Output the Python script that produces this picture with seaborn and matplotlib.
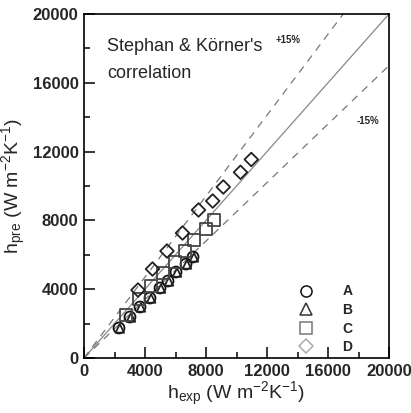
import numpy as np
import pandas as pd
import matplotlib
matplotlib.use("Agg")
import matplotlib.pyplot as plt
from matplotlib import font_manager
from matplotlib.lines import Line2D
from matplotlib.ticker import MultipleLocator
import seaborn as sns

# measured (x) vs predicted (y) heat transfer coefficients, W m-2 K-1
a_exp = [2295, 3016, 3672, 4328, 4984, 5508, 6033, 6689, 7148]
a_pre = [1744, 2384, 2965, 3488, 4070, 4477, 5000, 5465, 5872]

b_exp = [2350, 3080, 3730, 4400, 5050, 5570, 6100, 6750, 7210]
b_pre = [1720, 2360, 2940, 3460, 4040, 4450, 4970, 5440, 5850]

c_exp = [2754, 3607, 4393, 5180, 5967, 6623, 7213, 8000, 8525]
c_pre = [2500, 3430, 4186, 4942, 5581, 6221, 6860, 7500, 8023]

d_exp = [3541, 4492, 5443, 6459, 7508, 8439, 9134, 10262, 10970]
d_pre = [3953, 5174, 6221, 7267, 8605, 9128, 9942, 10797, 11541]

groups = ["A", "B", "C", "D"]
markers = {"A": "o", "B": "^", "C": "s", "D": "D"}
sizes = {"A": 62, "B": 38, "C": 75, "D": 48}
plot_edge = {"A": "#111111", "B": "#222222", "C": "#444444", "D": "#222222"}
legend_edge = {"A": "#111111", "B": "#333333", "C": "#777777", "D": "#aaaaaa"}

df = pd.concat([
    pd.DataFrame({"exp": a_exp, "pre": a_pre, "set": "A"}),
    pd.DataFrame({"exp": b_exp, "pre": b_pre, "set": "B"}),
    pd.DataFrame({"exp": c_exp, "pre": c_pre, "set": "C"}),
    pd.DataFrame({"exp": d_exp, "pre": d_pre, "set": "D"}),
])

sns.set_style("ticks")
plt.rcParams['font.family'] = ['Liberation Sans', 'DejaVu Sans']
plt.rcParams['mathtext.default'] = 'regular'

# make sure bold text uses the regular-width Liberation Sans Bold, not the Narrow cut
bold_path = None
for f in font_manager.fontManager.ttflist:
    if f.name == "Liberation Sans" and f.weight in (700, "bold") and f.style == "normal":
        bold_path = f.fname
        break
if bold_path:
    bold_fp = font_manager.FontProperties(fname=bold_path)
else:
    bold_fp = font_manager.FontProperties(family="Liberation Sans", weight="bold")

fig = plt.figure(figsize=(4.11, 4.13), dpi=100)
ax = fig.add_axes([84 / 411, 1 - 358 / 413, 305 / 411, 344 / 413])

# reference lines: perfect agreement and +/-15 %
ax.plot([0, 20000], [0, 20000], color="#888888", lw=0.9, zorder=1)
ax.plot([0, 20000 * 0.85], [0, 20000], color="#777777", lw=0.9, ls=(0, (6, 5)), zorder=1)
ax.plot([0, 20000], [0, 20000 * 0.85], color="#777777", lw=0.9, ls=(0, (6, 5)), zorder=1)

for g in groups:
    sub = df[df["set"] == g]
    sns.scatterplot(data=sub, x="exp", y="pre", ax=ax, marker=markers[g], s=sizes[g],
                    facecolor="none", edgecolor=plot_edge[g], linewidth=1.3, zorder=3)

ax.set_xlim(0, 20000)
ax.set_ylim(0, 20000)
ax.xaxis.set_major_locator(MultipleLocator(4000))
ax.xaxis.set_minor_locator(MultipleLocator(2000))
ax.yaxis.set_major_locator(MultipleLocator(4000))
ax.yaxis.set_minor_locator(MultipleLocator(2000))
ax.tick_params(which="both", direction="in", top=False, right=False, width=1.1, color="black")
ax.tick_params(which="major", length=8, pad=4)
ax.tick_params(which="minor", length=4)
for lab in ax.get_xticklabels() + ax.get_yticklabels():
    lab.set_fontproperties(bold_fp)
    lab.set_fontsize(12)
for sp in ax.spines.values():
    sp.set_visible(True)
    sp.set_color("black")
    sp.set_linewidth(1.2)

ax.set_xlabel(r"h$_{exp}$ (W m$^{-2}$K$^{-1}$)", fontsize=14, labelpad=1)
ax.set_ylabel(r"h$_{pre}$ (W m$^{-2}$K$^{-1}$)", fontsize=14, labelpad=3)

ax.text(0.075, 0.93, "Stephan & Körner's\ncorrelation", transform=ax.transAxes,
        fontsize=13, va="top", ha="left", linespacing=1.8)
ax.text(0.67, 0.925, "+15%", transform=ax.transAxes, fontproperties=bold_fp, fontsize=7,
        ha="center", va="center")
ax.text(0.93, 0.69, "-15%", transform=ax.transAxes, fontproperties=bold_fp, fontsize=7,
        ha="center", va="center")

handles = [Line2D([], [], marker=markers[g], ls="none", markerfacecolor="none",
                  markeredgecolor=legend_edge[g], markeredgewidth=1.1,
                  markersize=8 if g != "D" else 7) for g in groups]
legend_fp = bold_fp.copy()
legend_fp.set_size(10)
leg = ax.legend(handles, groups, loc="upper left", bbox_to_anchor=(0.665, 0.23),
                frameon=False, handletextpad=1.6, labelspacing=0.33, borderaxespad=0,
                prop=legend_fp)

fig.savefig("out.png", dpi=100)
